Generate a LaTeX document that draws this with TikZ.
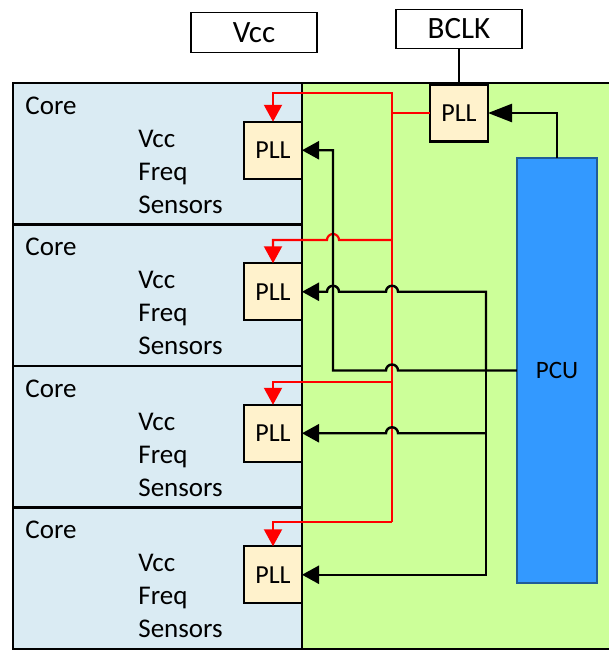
\documentclass[tikz,border=0pt]{standalone}
\usepackage{fontspec}
\setmainfont{Carlito}
\usetikzlibrary{arrows.meta,positioning,calc}

\definecolor{coreblue}{HTML}{DAEBF3}
\definecolor{diegreen}{HTML}{CCFF99}
\definecolor{pllfill}{HTML}{FFF2CC}
\definecolor{pcufill}{HTML}{3399FF}
\definecolor{pcuedge}{HTML}{1F5C99}

% small bump where a wire crosses another one (drawn right to left)
\newcommand{\hopover}{arc[start angle=0, end angle=-180, radius=6]}

\begin{document}
\begin{tikzpicture}[
    x=0.5pt, y=-0.5pt,
    node distance=0pt,
    core/.style={rectangle, draw, fill=coreblue, line width=1.1pt,
                 minimum width=144.5pt, minimum height=70.75pt,
                 inner sep=0pt, outer sep=0pt},
    lbl/.style={inner sep=0pt, anchor=base west,
                font=\fontsize{13.5}{16}\selectfont},
    pll/.style={rectangle, draw, fill=pllfill, line width=1.1pt,
                minimum width=29pt, minimum height=28.5pt,
                inner sep=0pt, outer sep=0pt, font=\fontsize{13}{15}\selectfont},
    ext/.style={rectangle, draw, fill=white, line width=0.7pt,
                minimum width=63pt, minimum height=19.75pt,
                inner sep=0pt, outer sep=0pt, font=\fontsize{15.5}{18}\selectfont},
    pcu/.style={rectangle, draw=pcuedge, fill=pcufill, line width=0.8pt,
                minimum width=40pt, minimum height=212.5pt,
                inner sep=0pt, outer sep=0pt, font=\fontsize{12.5}{14}\selectfont},
    wire/.style={draw, line width=1.2pt},
    arr/.style={wire, -{Triangle[length=8.5pt,width=9pt]}},
    clk/.style={draw, red, line width=1.1pt},
    clkarr/.style={clk, -{Triangle[length=8.5pt,width=9pt]}}
]
    \useasboundingbox (0,0) rectangle (609,650);

    % die background
    \fill [diegreen] (302,83) rectangle (609,649);
    \draw [line width=1.1pt] (13,83) -- (609,83);
    \draw [line width=1.1pt] (13,649) -- (609,649);

    % cores
    \node [core] (core1) at (157.5,153.75) {};
    \node [core, below=of core1] (core2) {};
    \node [core, below=of core2] (core3) {};
    \node [core, below=of core3] (core4) {};

    \node [lbl] (name1) at ($(core1.north west)+(12,31)$)  {Core};
    \node [lbl] (vcc1)  at ($(core1.north west)+(125,64)$) {Vcc};
    \node [lbl] (freq1) at ($(core1.north west)+(125,97)$) {Freq};
    \node [lbl] (sens1) at ($(core1.north west)+(125,130)$) {Sensors};

    \node [lbl] (name2) at ($(core2.north west)+(12,31)$)  {Core};
    \node [lbl] (vcc2)  at ($(core2.north west)+(125,64)$) {Vcc};
    \node [lbl] (freq2) at ($(core2.north west)+(125,97)$) {Freq};
    \node [lbl] (sens2) at ($(core2.north west)+(125,130)$) {Sensors};

    \node [lbl] (name3) at ($(core3.north west)+(12,31)$)  {Core};
    \node [lbl] (vcc3)  at ($(core3.north west)+(125,64)$) {Vcc};
    \node [lbl] (freq3) at ($(core3.north west)+(125,97)$) {Freq};
    \node [lbl] (sens3) at ($(core3.north west)+(125,130)$) {Sensors};

    \node [lbl] (name4) at ($(core4.north west)+(12,31)$)  {Core};
    \node [lbl] (vcc4)  at ($(core4.north west)+(125,64)$) {Vcc};
    \node [lbl] (freq4) at ($(core4.north west)+(125,97)$) {Freq};
    \node [lbl] (sens4) at ($(core4.north west)+(125,130)$) {Sensors};

    \node [pll, anchor=east] (pll1) at ($(core1.east)+(0,-3.5)$) {PLL};
    \node [pll, anchor=east] (pll2) at ($(core2.east)+(0,-3.5)$) {PLL};
    \node [pll, anchor=east] (pll3) at ($(core3.east)+(0,-3.5)$) {PLL};
    \node [pll, anchor=east] (pll4) at ($(core4.east)+(0,-3.5)$) {PLL};

    % inputs on top
    \node [ext] (vcc)  at (254,32.5) {Vcc};
    \node [ext] (bclk) at (459,29)   {BCLK};
    \node [pll] (toppll) at (459,113) {PLL};
    \node [pcu] (pcu) at (557,370.5) {PCU};

    \draw [wire, line width=1pt] (bclk.south) -- (toppll.north);
    \draw [wire, -{Triangle[length=12pt,width=9pt]}] (pcu.north) |- (toppll.east);

    % clock distribution
    \coordinate (rtop) at (392,93);
    \coordinate (r2)   at (392,240);
    \coordinate (r3)   at (392,382);
    \coordinate (rbot) at (392,522);
    \draw [clk] (toppll.west) -- (toppll.west -| rtop);
    \draw [clkarr] (rbot) -- (rtop) -| (pll1.north);
    \draw [clkarr] (r2) -- (339,0 |- r2) \hopover -| (pll2.north);
    \draw [clkarr] (r3) -| (pll3.north);
    \draw [clkarr] (rbot) -| (pll4.north);

    % PCU control
    \coordinate (tap) at (486,0 |- pcu.west);
    \draw [arr] (pcu.west) -- (398,0 |- pcu.west) \hopover
                -- (333,0 |- pcu.west) |- (pll1.east);
    \draw [arr] (tap) |- (398,0 |- pll2.east) \hopover
                -- (339,0 |- pll2.east) \hopover -- (pll2.east);
    \draw [arr] (tap |- pll3.east) -- (398,0 |- pll3.east) \hopover -- (pll3.east);
    \draw [arr] (tap) |- (pll4.east);
\end{tikzpicture}
\end{document}
